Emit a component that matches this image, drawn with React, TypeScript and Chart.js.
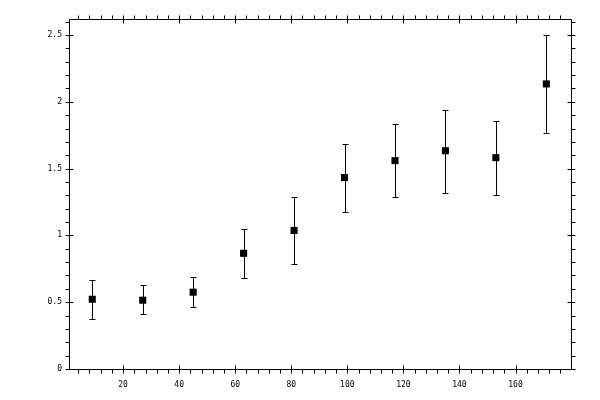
import { useEffect, useRef } from "react"
import { Chart, registerables, Plugin } from "chart.js"

Chart.register(...registerables)

// Measured values (x position, mean, upper and lower end of error bar)
const xValues = [9, 27, 45, 63, 81, 99, 117, 135, 153, 171]
const yValues = [0.522, 0.515, 0.575, 0.866, 1.037, 1.433, 1.56, 1.634, 1.582, 2.134]
const yHigh = [0.669, 0.627, 0.687, 1.049, 1.284, 1.687, 1.833, 1.94, 1.858, 2.5]
const yLow = [0.373, 0.413, 0.463, 0.679, 0.784, 1.179, 1.284, 1.321, 1.306, 1.769]

const FONT = { family: "'DejaVu Sans Mono', monospace", size: 8 }

const crisp = (v: number) => Math.round(v) + 0.5

// error bars drawn under the squares
const errorBars: Plugin = {
    id: "errorBars",
    beforeDatasetsDraw(chart) {
        const { ctx, scales } = chart
        const xs = scales.x
        const ys = scales.y
        ctx.save()
        ctx.strokeStyle = "#000"
        ctx.lineWidth = 1
        ctx.beginPath()
        xValues.forEach((xv, i) => {
            const px = crisp(xs.getPixelForValue(xv))
            const top = Math.round(ys.getPixelForValue(yHigh[i])) + 0.5
            const bot = Math.round(ys.getPixelForValue(yLow[i])) + 0.5
            ctx.moveTo(px, top)
            ctx.lineTo(px, bot)
            ctx.moveTo(px - 3, top)
            ctx.lineTo(px + 3, top)
            ctx.moveTo(px - 3, bot)
            ctx.lineTo(px + 3, bot)
        })
        ctx.stroke()
        ctx.restore()
    },
}

// box frame with major (crossing) and minor (outward) ticks on all four sides
const frame: Plugin = {
    id: "frame",
    afterDraw(chart) {
        const { ctx, chartArea, scales } = chart
        const left = crisp(chartArea.left)
        const right = crisp(chartArea.right)
        const top = crisp(chartArea.top)
        const bottom = crisp(chartArea.bottom)
        ctx.save()
        ctx.strokeStyle = "#000"
        ctx.lineWidth = 1
        ctx.beginPath()
        ctx.rect(left, top, right - left, bottom - top)

        const xs = scales.x
        for (let i = Math.ceil(xs.min / 4); i * 4 <= xs.max; i++) {
            const v = i * 4
            const px = crisp(xs.getPixelForValue(v))
            const major = v % 20 === 0
            ctx.moveTo(px, bottom + 4)
            ctx.lineTo(px, major ? bottom - 4 : bottom)
            ctx.moveTo(px, top - 4)
            ctx.lineTo(px, major ? top + 4 : top)
        }
        const ys = scales.y
        for (let i = Math.ceil(ys.min / 0.1 - 1e-6); i * 0.1 <= ys.max + 1e-6; i++) {
            const py = crisp(ys.getPixelForValue(i * 0.1))
            const major = i % 5 === 0
            ctx.moveTo(left - 4, py)
            ctx.lineTo(major ? left + 4 : left, py)
            ctx.moveTo(right + 4, py)
            ctx.lineTo(major ? right - 4 : right, py)
        }
        ctx.stroke()
        ctx.restore()
    },
}

export default function App() {
    const canvasRef = useRef<HTMLCanvasElement | null>(null)
    const chartRef = useRef<Chart | null>(null)

    useEffect(() => {
        if (!canvasRef.current) return
        if (chartRef.current) chartRef.current.destroy()

        chartRef.current = new Chart(canvasRef.current, {
            type: "scatter",
            data: {
                datasets: [
                    {
                        data: xValues.map((x, i) => ({ x, y: yValues[i] })),
                        pointStyle: "rect",
                        pointRadius: 5,
                        pointBackgroundColor: "#000",
                        pointBorderWidth: 0,
                    },
                ],
            },
            options: {
                animation: false,
                responsive: false,
                devicePixelRatio: 1,
                layout: { padding: { top: 19, right: 29, left: 0, bottom: 0 } },
                plugins: { legend: { display: false }, tooltip: { enabled: false } },
                scales: {
                    x: {
                        type: "linear",
                        position: "bottom",
                        min: 0.7,
                        max: 179.8,
                        grid: { display: false, drawTicks: false },
                        border: { display: false },
                        ticks: {
                            stepSize: 20,
                            includeBounds: false,
                            color: "#000",
                            font: FONT,
                            padding: 11,
                            maxRotation: 0,
                            callback: (v) => String(v),
                        },
                        afterFit: (scale) => {
                            scale.height = 31
                        },
                    },
                    y: {
                        type: "linear",
                        position: "left",
                        min: 0,
                        max: 2.62,
                        grid: { display: false, drawTicks: false },
                        border: { display: false },
                        ticks: {
                            stepSize: 0.5,
                            includeBounds: false,
                            color: "#000",
                            font: FONT,
                            padding: 7,
                            callback: (v) => String(v),
                        },
                        afterFit: (scale) => {
                            scale.width = 69
                        },
                    },
                },
            },
            plugins: [errorBars, frame],
        })

        return () => {
            if (chartRef.current) {
                chartRef.current.destroy()
                chartRef.current = null
            }
        }
    }, [])

    return (
        <div style={{ position: "fixed", left: 0, top: 0, width: 600, height: 400, background: "#fff" }}>
            <canvas ref={canvasRef} width={600} height={400} />
        </div>
    )
}
